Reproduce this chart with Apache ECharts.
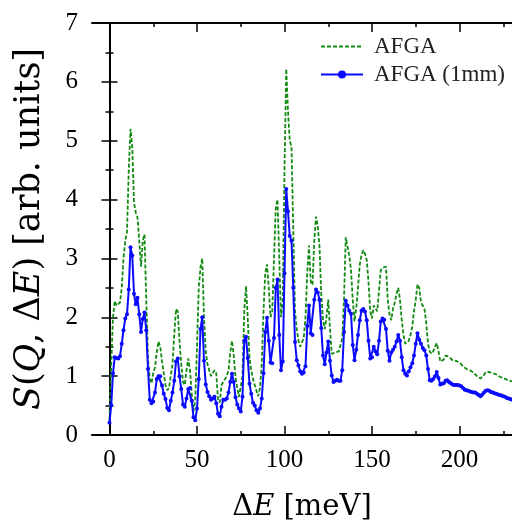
<!DOCTYPE html>
<html>
<head>
<meta charset="utf-8">
<script src="https://cdn.jsdelivr.net/npm/echarts@6/dist/echarts.min.js"></script>
<style>
html,body{margin:0;padding:0;background:#fff;}
#c{width:512px;height:527px;}
</style>
</head>
<body>
<div id="c"></div>
<script>
// Energy grid: 0..230 meV, 1 meV step
var energyStart = 0;
var energyStep = 1;

// AFGA (dashed green)
var afga = [
0.26,1.2,2.0,2.28,2.2,2.18,2.25,2.5,3.0,3.3,
3.45,4.5,5.2,4.9,3.95,3.78,3.7,3.3,2.86,3.3,
3.41,2.3,1.3,0.95,0.88,1.05,1.15,1.4,1.59,1.5,
1.25,1.05,0.85,0.76,0.8,1.0,1.2,1.7,2.14,2.1,
1.6,1.2,0.9,0.85,1.1,1.3,1.1,0.7,0.4,0.6,
1.5,2.5,2.85,3.0,2.0,1.42,1.2,1.1,1.0,0.98,
1.1,1.05,0.6,0.55,0.85,0.9,0.93,1.0,1.1,1.4,
1.6,1.35,0.98,0.8,0.65,0.62,1.0,2.1,2.53,2.0,
1.3,1.1,0.95,0.85,0.75,0.66,0.8,1.2,2.1,2.75,
2.9,2.5,2.0,2.1,3.0,3.85,4.0,3.0,2.0,2.3,
4.5,6.22,5.5,5.0,4.9,3.5,2.1,1.8,1.6,1.5,
1.5,1.65,2.0,2.75,3.22,2.6,2.55,3.3,3.71,3.55,
3.2,2.4,1.95,1.8,2.0,2.3,1.8,1.38,1.4,1.4,
1.38,1.42,1.4,1.64,2.3,3.36,3.2,3.05,2.8,2.3,
1.93,2.15,2.5,2.9,3.05,3.14,3.08,2.97,2.6,2.1,
1.98,2.2,2.15,2.1,2.45,2.8,2.84,2.81,2.86,2.3,
2.05,1.95,2.15,2.25,2.4,2.5,2.3,1.95,1.7,1.55,
1.55,1.6,1.7,1.84,2.1,2.3,2.56,2.5,2.25,2.2,
2.14,1.9,1.55,1.42,1.38,1.42,1.5,1.56,1.42,1.25,
1.25,1.28,1.35,1.37,1.33,1.3,1.27,1.27,1.26,1.26,
1.23,1.2,1.17,1.14,1.12,1.11,1.1,1.09,1.06,1.03,
1.0,0.98,0.96,0.98,1.02,1.07,1.08,1.07,1.06,1.05,
1.04,1.03,1.01,0.99,0.98,0.97,0.96,0.94,0.93,0.92,
0.91
];

// AFGA (1mm) (solid blue with dots)
var afga1mm = [
0.21,0.51,1.05,1.32,1.31,1.3,1.34,1.55,1.78,1.98,
2.05,2.47,3.19,3.05,2.4,2.22,2.33,2.05,1.75,1.97,
2.08,1.78,1.12,0.6,0.54,0.57,0.72,0.95,1.0,1.0,
0.84,0.7,0.61,0.46,0.42,0.58,0.72,0.92,1.25,1.3,
1.0,0.78,0.52,0.48,0.62,0.78,0.8,0.58,0.3,0.25,
0.45,0.95,1.8,2.0,1.26,0.86,0.73,0.66,0.6,0.62,
0.65,0.54,0.36,0.32,0.48,0.6,0.6,0.62,0.72,0.9,
1.04,0.9,0.64,0.52,0.45,0.4,0.65,1.6,1.67,1.31,
0.87,0.7,0.55,0.5,0.42,0.38,0.45,0.62,1.05,1.75,
1.99,1.6,1.23,1.22,1.65,2.5,2.64,1.7,1.1,1.25,
2.75,4.18,3.8,3.38,3.3,2.5,1.58,1.27,1.18,1.08,
1.04,1.06,1.17,1.85,2.2,1.73,1.7,2.3,2.47,2.42,
2.3,1.82,1.35,1.2,1.4,1.59,1.26,1.01,0.9,0.92,
0.94,0.92,0.92,1.1,1.75,2.28,2.2,2.11,2.06,1.53,
1.27,1.45,1.7,1.95,2.11,2.14,2.1,1.95,1.6,1.3,
1.32,1.5,1.42,1.37,1.6,1.93,1.98,1.96,1.8,1.43,
1.26,1.4,1.45,1.5,1.59,1.7,1.6,1.32,1.1,1.04,
1.01,1.08,1.15,1.22,1.35,1.55,1.73,1.62,1.55,1.48,
1.44,1.35,1.12,0.93,0.92,0.95,1.0,1.07,0.97,0.86,
0.87,0.88,0.92,0.93,0.9,0.88,0.86,0.85,0.85,0.85,
0.84,0.83,0.8,0.77,0.76,0.75,0.74,0.73,0.72,0.72,
0.7,0.68,0.66,0.69,0.72,0.75,0.76,0.75,0.73,0.72,
0.71,0.7,0.69,0.68,0.67,0.66,0.65,0.63,0.62,0.61,
0.6
];

var xMajorTicks = [0, 50, 100, 150, 200];
var xMinorTicks = [25, 75, 125, 175, 225];
var seriesNames = ['AFGA', 'AFGA (1mm)'];

function pairs(vals) {
  return vals.map(function (v, i) { return [energyStart + i * energyStep, v]; });
}

var FONT = '"Liberation Serif", "DejaVu Serif", serif';
var TFONT = '"DejaVu Serif", "Liberation Serif", serif';
var chart = echarts.init(document.getElementById('c'), null, {renderer: 'canvas'});

var xBase = {
  type: 'value', min: -10, max: 230, gridIndex: 0,
  splitLine: {show: false}
};
function xAx(pos, ticks, len, withLabels, withLine) {
  var a = Object.assign({}, xBase, {
    position: pos,
    axisLine: {show: withLine, onZero: false, lineStyle: {color: '#000', width: 2}},
    axisTick: {show: true, inside: true, length: len, customValues: ticks, lineStyle: {color: '#000', width: 1.5}},
    axisLabel: {show: withLabels, customValues: ticks, margin: 13, color: '#000', fontSize: 25, fontFamily: FONT}
  });
  return a;
}
var xAxes = [
  xAx('bottom', xMajorTicks, 9, true, true),
  xAx('bottom', xMinorTicks, 4, false, false),
  xAx('top', xMajorTicks, 9, false, true),
  xAx('top', xMinorTicks, 4, false, false)
];
xAxes[0].name = '{n|\u0394}{i|E}{n| [meV]}';
xAxes[0].nameLocation = 'middle';
xAxes[0].nameGap = 58;
xAxes[0].nameTextStyle = {
  rich: {
    n: {fontSize: 29, fontFamily: TFONT, color: '#000'},
    i: {fontSize: 29, fontFamily: TFONT, fontStyle: 'italic', color: '#000'}
  }
};

function yAx(pos, withLabels) {
  return {
    type: 'value', min: 0, max: 7, interval: 1, position: pos,
    axisLine: {show: true, lineStyle: {color: '#000', width: 2}},
    axisTick: {show: true, inside: true, length: 8, lineStyle: {color: '#000', width: 1.5}},
    minorTick: {show: true, splitNumber: 2, length: 4, lineStyle: {color: '#000', width: 1.5}},
    axisLabel: {show: withLabels, margin: 14, color: '#000', fontSize: 25, fontFamily: FONT},
    splitLine: {show: false}
  };
}
var yAxes = [yAx('left', true), yAx('right', false)];
yAxes[0].name = '{i|S}{n|(}{i|Q}{n|, \u0394}{i|E}{n|) [arb. units]}';
yAxes[0].nameLocation = 'middle';
yAxes[0].nameGap = 45;
yAxes[0].nameRotate = 90;
yAxes[0].nameTextStyle = {
  rich: {
    n: {fontSize: 35, fontFamily: TFONT, color: '#000'},
    i: {fontSize: 35, fontFamily: TFONT, fontStyle: 'italic', color: '#000'}
  }
};

chart.setOption({
  animation: false,
  backgroundColor: '#fff',
  grid: {left: 92, top: 23, width: 421, height: 423},
  legend: {
    show: true,
    orient: 'vertical',
    left: 315, top: 30,
    itemWidth: 42, itemHeight: 10, itemGap: 5,
    textStyle: {fontSize: 23, fontFamily: FONT, color: '#222', padding: [0, 0, 0, 6]},
    data: [
      {name: seriesNames[0], itemStyle: {opacity: 0}},
      {name: seriesNames[1]}
    ]
  },
  xAxis: xAxes,
  yAxis: yAxes,
  series: [
    {
      name: seriesNames[0], type: 'line', data: pairs(afga),
      xAxisIndex: 0, yAxisIndex: 0,
      showSymbol: false, symbol: 'none',
      lineStyle: {color: '#128a12', width: 1.8, type: [4, 2]},
      itemStyle: {color: '#128a12'},
      z: 2
    },
    {
      name: seriesNames[1], type: 'line', data: pairs(afga1mm),
      xAxisIndex: 0, yAxisIndex: 0,
      symbol: 'circle', symbolSize: 4, showAllSymbol: true,
      lineStyle: {color: '#0a0aff', width: 2},
      itemStyle: {color: '#0a0aff'},
      z: 3
    }
  ]
});
</script>
</body>
</html>
